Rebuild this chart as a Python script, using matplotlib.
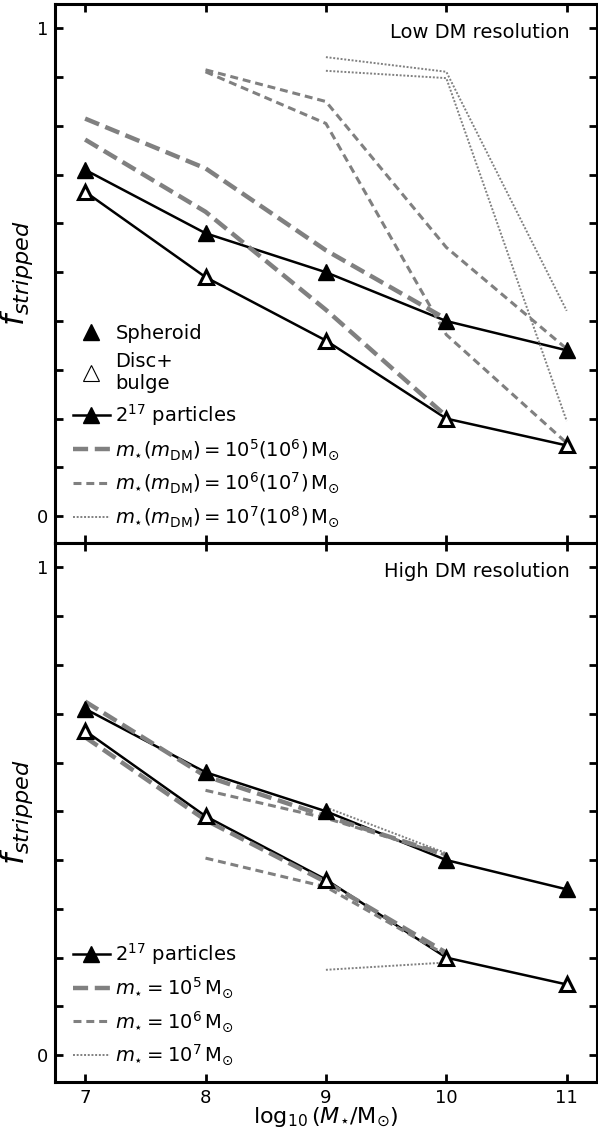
import numpy as np
import matplotlib
matplotlib.use("Agg")
import matplotlib.pyplot as plt
from matplotlib.lines import Line2D
from matplotlib.ticker import FixedLocator, FuncFormatter

# ---- data ----
logm = [7, 8, 9, 10, 11]
sph_ref = [0.71, 0.58, 0.50, 0.40, 0.34]      # 2^17 particles, spheroid
disc_ref = [0.665, 0.49, 0.36, 0.20, 0.145]   # 2^17 particles, disc+bulge

# low DM resolution
x_m5 = [7, 8, 9, 10]
x_m6 = [8, 9, 10, 11]
x_m7 = [9, 10, 11]
lo_sph_m5 = [0.815, 0.713, 0.545, 0.404]
lo_disc_m5 = [0.772, 0.624, 0.423, 0.205]
lo_sph_m6 = [0.915, 0.85, 0.551, 0.343]
lo_disc_m6 = [0.911, 0.805, 0.372, 0.15]
lo_sph_m7 = [0.941, 0.911, 0.421]
lo_disc_m7 = [0.913, 0.898, 0.195]

# high DM resolution
hx_m6 = [8, 9, 10]
hx_m7 = [9, 10]
hi_sph_m5 = [0.725, 0.572, 0.49, 0.41]
hi_disc_m5 = [0.652, 0.482, 0.355, 0.21]
hi_sph_m6 = [0.543, 0.486, 0.41]
hi_disc_m6 = [0.404, 0.345, 0.205]
hi_sph_m7 = [0.508, 0.414]
hi_disc_m7 = [0.175, 0.19]

GREY = "#808080"
LONG = dict(color=GREY, lw=3.2, dashes=(3.4, 1.5))
SHORT = dict(color=GREY, lw=2.2, dashes=(2.6, 1.6))
DOT = dict(color=GREY, lw=1.4, dashes=(1.0, 0.9))

plt.rcParams["mathtext.fontset"] = "dejavusans"

fig, axes = plt.subplots(2, 1, figsize=(5.98, 11.33), dpi=100, sharex=True)
fig.subplots_adjust(left=0.092, right=0.998, top=0.9965, bottom=0.045, hspace=0)


def draw_ref(ax):
    ax.plot(logm, sph_ref, color="k", lw=1.8, zorder=2)
    ax.plot(logm, disc_ref, color="k", lw=1.8, zorder=2)
    ax.plot(logm, sph_ref, ls="none", marker="^", ms=11, mfc="k", mec="k", zorder=5)
    ax.plot(logm, disc_ref, ls="none", marker="^", ms=10, mfc="w", mec="k",
            mew=2.2, zorder=5)


def style(ax):
    ax.set_xlim(6.75, 11.25)
    ax.set_ylim(-0.055, 1.05)
    ax.yaxis.set_major_locator(FixedLocator(np.round(np.arange(0, 1.01, 0.1), 1)))
    ax.yaxis.set_major_formatter(FuncFormatter(
        lambda v, p: "%d" % round(v) if abs(v) < 1e-6 or abs(v - 1) < 1e-6 else ""))
    ax.set_xticks(logm)
    ax.tick_params(direction="in", top=True, right=True, length=6, width=2,
                   labelsize=13, pad=5)
    for s in ax.spines.values():
        s.set_linewidth(2.2)
    ax.set_ylabel(r"$f_{stripped}$", fontsize=23, labelpad=1)


# ---- top: low DM resolution ----
ax = axes[0]
draw_ref(ax)
ax.plot(x_m5, lo_sph_m5, zorder=3, **LONG)
ax.plot(x_m5, lo_disc_m5, zorder=3, **LONG)
ax.plot(x_m6, lo_sph_m6, zorder=3, **SHORT)
ax.plot(x_m6, lo_disc_m6, zorder=3, **SHORT)
ax.plot(x_m7, lo_sph_m7, zorder=3, **DOT)
ax.plot(x_m7, lo_disc_m7, zorder=3, **DOT)
style(ax)
ax.text(0.95, 0.965, "Low DM resolution", transform=ax.transAxes,
        ha="right", va="top", fontsize=14)

handles = [
    Line2D([], [], ls="none", marker="^", ms=11, mfc="k", mec="k"),
    Line2D([], [], ls="none", marker="^", ms=11, mfc="w", mec="k", mew=0.8),
    Line2D([], [], color="k", lw=1.8, marker="^", ms=11, mfc="k", mec="k"),
    Line2D([], [], **LONG),
    Line2D([], [], **SHORT),
    Line2D([], [], **DOT),
]
labels = [
    "Spheroid",
    "Disc+\nbulge",
    r"$2^{17}$ particles",
    r"$m_{\star}(m_{\rm DM})=10^5(10^6)\,\mathrm{M}_{\odot}$",
    r"$m_{\star}(m_{\rm DM})=10^6(10^7)\,\mathrm{M}_{\odot}$",
    r"$m_{\star}(m_{\rm DM})=10^7(10^8)\,\mathrm{M}_{\odot}$",
]
ax.legend(handles, labels, loc="lower left", frameon=False, fontsize=14,
          handlelength=1.9, handletextpad=0.3, labelspacing=0.47,
          borderaxespad=0.2, bbox_to_anchor=(0.011, 0.004))

# ---- bottom: high DM resolution ----
ax = axes[1]
draw_ref(ax)
ax.plot(x_m5, hi_sph_m5, zorder=3, **LONG)
ax.plot(x_m5, hi_disc_m5, zorder=3, **LONG)
ax.plot(hx_m6, hi_sph_m6, zorder=3, **SHORT)
ax.plot(hx_m6, hi_disc_m6, zorder=3, **SHORT)
ax.plot(hx_m7, hi_sph_m7, zorder=3, **DOT)
ax.plot(hx_m7, hi_disc_m7, zorder=3, **DOT)
style(ax)
ax.text(0.95, 0.965, "High DM resolution", transform=ax.transAxes,
        ha="right", va="top", fontsize=14)
ax.set_xlabel(r"$\log_{10}(M_{\star}/\mathrm{M}_{\odot})$", fontsize=16, labelpad=-1)

handles = [
    Line2D([], [], color="k", lw=1.8, marker="^", ms=11, mfc="k", mec="k"),
    Line2D([], [], **LONG),
    Line2D([], [], **SHORT),
    Line2D([], [], **DOT),
]
labels = [
    r"$2^{17}$ particles",
    r"$m_{\star}=10^5\,\mathrm{M}_{\odot}$",
    r"$m_{\star}=10^6\,\mathrm{M}_{\odot}$",
    r"$m_{\star}=10^7\,\mathrm{M}_{\odot}$",
]
ax.legend(handles, labels, loc="lower left", frameon=False, fontsize=14,
          handlelength=1.9, handletextpad=0.3, labelspacing=0.45,
          borderaxespad=0.2, bbox_to_anchor=(0.011, 0.006))

fig.savefig("out.png", dpi=100)
